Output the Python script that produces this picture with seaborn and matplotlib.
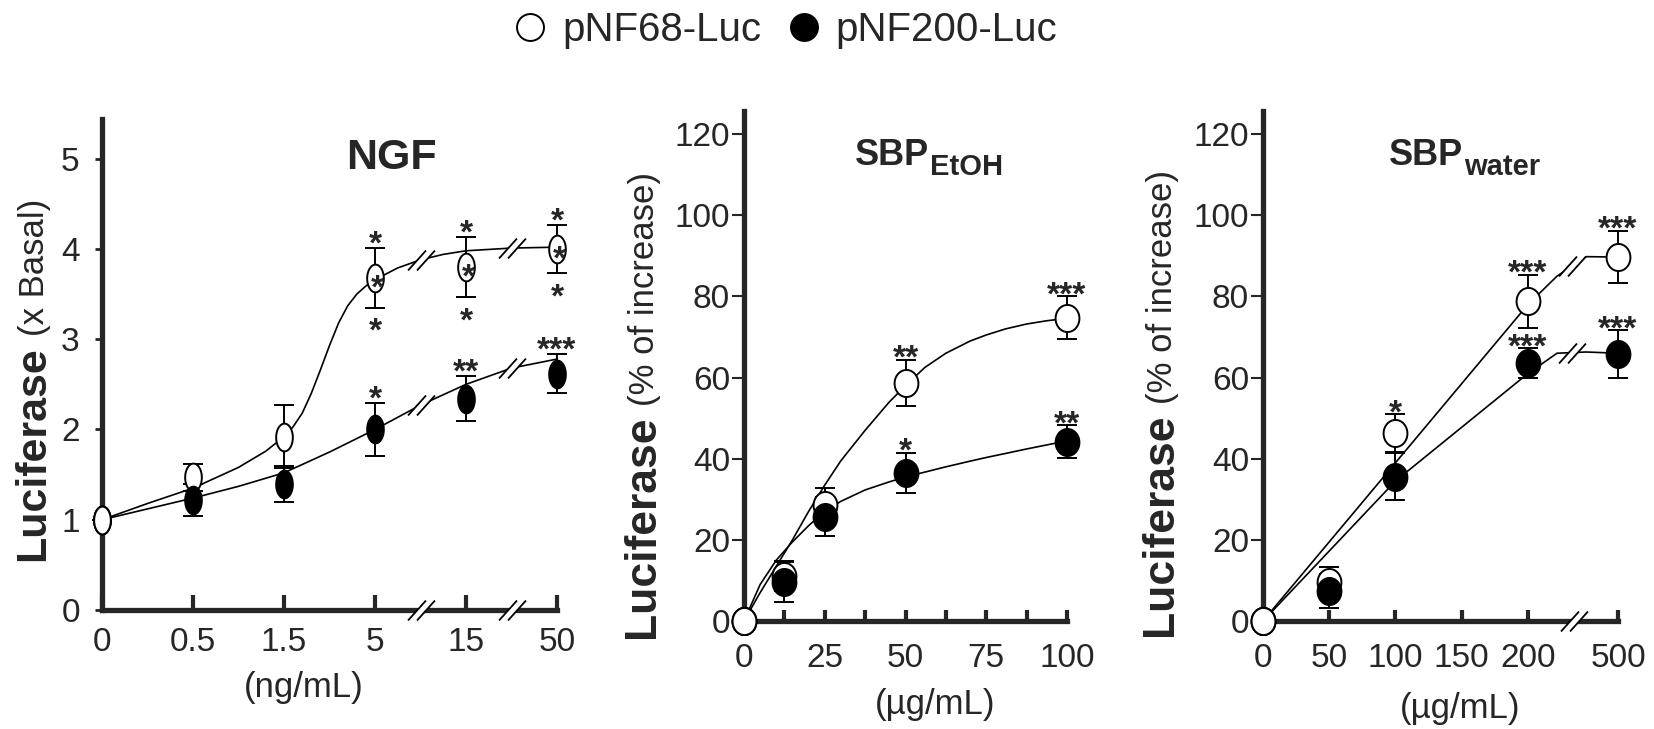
import numpy as np
import matplotlib
matplotlib.use('Agg')
import matplotlib.pyplot as plt
import seaborn as sns
from matplotlib.path import Path
from matplotlib.lines import Line2D

series_names = ['pNF68-Luc', 'pNF200-Luc']

# ---- NGF panel (x = category index, labels in ng/mL) ----
ngf_labels = ['0', '0.5', '1.5', '5', '15', '50']
ngf_x = [0, 1, 2, 3, 4, 5]
ngf_open = [1.0, 1.47, 1.92, 3.68, 3.80, 4.00]
ngf_open_err = [0.0, 0.15, 0.35, 0.33, 0.33, 0.27]
ngf_filled = [1.0, 1.22, 1.40, 2.00, 2.34, 2.62]
ngf_filled_err = [0.0, 0.18, 0.20, 0.29, 0.25, 0.22]
ngf_open_stars = ['', '', '', '*', '*', '*']
ngf_filled_stars = ['', '', '', '*', '**', '***']
ngf_fit_open_x = [0, 0.5, 1.0, 1.5, 1.8, 2.0, 2.1, 2.2, 2.3, 2.4, 2.5, 2.6, 2.7, 2.8, 2.9,
                  3.0, 3.25, 3.5, 3.75, 4.0, 4.5, 5.0]
ngf_fit_open = [1.0, 1.18, 1.35, 1.58, 1.76, 1.92, 2.03, 2.18, 2.40, 2.66, 2.93, 3.18, 3.37,
                3.50, 3.59, 3.66, 3.79, 3.88, 3.94, 3.98, 4.01, 4.02]
ngf_fit_filled_x = [0, 0.5, 1.0, 1.5, 2.0, 2.5, 3.0, 3.5, 4.0, 4.5, 5.0]
ngf_fit_filled = [1.0, 1.12, 1.24, 1.37, 1.52, 1.75, 2.0, 2.27, 2.5, 2.68, 2.78]
ngf_breaks = [3.5, 4.5]

# ---- SBP EtOH panel (ug/mL) ----
etoh_x = [0, 12.5, 25, 50, 100]
etoh_open = [0, 11.0, 28.5, 58.7, 74.8]
etoh_open_err = [0, 3.5, 4.2, 5.7, 5.3]
etoh_filled = [0, 9.7, 25.7, 36.5, 44.2]
etoh_filled_err = [0, 5.0, 4.8, 5.0, 4.0]
etoh_open_stars = ['', '', '', '**', '***']
etoh_filled_stars = ['', '', '', '*', '**']
etoh_fit_x = [0, 5, 10, 15, 20, 25, 30, 37.5, 45, 50, 56, 62.5, 70, 75, 81, 87.5, 93.75, 100]
etoh_fit_open = [0, 7.0, 13.5, 20.0, 27.0, 33.5, 39.5, 47.0, 54.0, 58.0, 62.5, 66.0, 69.0,
                 70.5, 72.0, 73.2, 74.0, 74.6]
etoh_fit_filled = [0, 9.0, 15.0, 19.5, 23.5, 27.0, 29.5, 32.3, 34.3, 35.5, 36.7, 38.0, 39.4,
                   40.3, 41.3, 42.4, 43.4, 44.4]

# ---- SBP water panel (ug/mL); 500 sits after an axis break ----
water_labels = ['0', '50', '100', '150', '200', '500']
water_dose = [0, 50, 100, 200, 500]
water_open = [0, 9.7, 46.3, 78.8, 89.7]
water_open_err = [0, 3.6, 4.6, 6.6, 6.5]
water_filled = [0, 7.3, 35.6, 63.6, 65.8]
water_filled_err = [0, 4.2, 5.8, 3.6, 5.8]
water_open_stars = ['', '', '*', '***', '***']
water_filled_stars = ['', '', '', '***', '***']
# fitted lines in axis units (500 drawn at 268)
water_fit_x = [0, 100, 200, 222, 244, 268]
water_fit_open = [0, 39.0, 78.0, 85.0, 89.8, 89.7]
water_fit_filled = [0, 34.5, 61.0, 66.0, 66.3, 66.0]
water_breaks = [233]
WATER_BREAK_POS = 268


def water_axis(v):
    return v if v <= 200 else WATER_BREAK_POS


W, H = 1654, 729
sns.set_style('ticks')
plt.rcParams['font.family'] = ['Liberation Sans', 'DejaVu Sans']
plt.rcParams['mathtext.fontset'] = 'custom'

fig = plt.figure(figsize=(W / 100, H / 100), dpi=100)
fig.patch.set_facecolor('white')


def oval(aspect):
    t = np.linspace(0, 2 * np.pi, 60)
    return Path(np.column_stack([aspect * np.cos(t), np.sin(t)]), closed=True)


a, h, d = 9, 10, 4.5
slash_path = Path([(-a - d, -h), (a - d, h), (-a + d, -h), (a + d, h)],
                  [Path.MOVETO, Path.LINETO, Path.MOVETO, Path.LINETO])
gap_path = Path([(-a - d, -h), (a - d, h), (a + d, h), (-a + d, -h), (-a - d, -h)],
                [Path.MOVETO, Path.LINETO, Path.LINETO, Path.LINETO, Path.CLOSEPOLY])


def draw_break(ax, x, y):
    ax.plot([x], [y], ls='none', marker=gap_path, ms=19.4, mfc='white', mec='white', mew=0,
            zorder=8, clip_on=False)
    ax.plot([x], [y], ls='none', marker=slash_path, ms=19.4, mfc='none', mec='k', mew=1.3,
            zorder=9, clip_on=False)


def stars(ax, x, y, err, labels, off, above=True):
    for xi, yi, ei, s in zip(x, y, err, labels):
        if not s:
            continue
        yy = yi + ei if above else yi - ei
        ax.annotate(s, (xi, yy), xytext=(0, off), textcoords='offset points', ha='center',
                    va='baseline', fontsize=24, fontweight='bold', zorder=10,
                    annotation_clip=False)


def draw_panel(ax, x, yo, eo, yf, ef, fxo, fo, fxf, ff, marker, ms):
    sns.lineplot(x=fxo, y=fo, ax=ax, color='k', lw=1.2, sort=False, zorder=2)
    sns.lineplot(x=fxf, y=ff, ax=ax, color='k', lw=1.2, sort=False, zorder=2)
    for y, e in ((yo, eo), (yf, ef)):
        ax.errorbar(x, y, yerr=e, fmt='none', ecolor='k', elinewidth=1.4, capsize=7,
                    capthick=1.4, zorder=3, clip_on=False)
    ax.plot(x, yo, ls='none', marker=marker, ms=ms, mfc='white', mec='k', mew=1.4,
            zorder=4, clip_on=False)
    ax.plot(x, yf, ls='none', marker=marker, ms=ms, mfc='k', mec='k', mew=1.4,
            zorder=5, clip_on=False)
    # basal point: open symbol on top
    ax.plot(x[:1], yo[:1], ls='none', marker=marker, ms=ms, mfc='white', mec='k', mew=1.4,
            zorder=6, clip_on=False)


def style_axis(ax, xlen, ylen, ywidth, ypad, xpad):
    sns.despine(ax=ax)
    for sp in ('left', 'bottom'):
        ax.spines[sp].set_linewidth(3.8)
    ax.tick_params(axis='x', which='both', direction='in', length=xlen, width=3, pad=xpad,
                   labelsize=24)
    ax.tick_params(axis='y', direction='out', length=ylen, width=ywidth, pad=ypad,
                   labelsize=24)
    ax.set_xlabel('')
    ax.set_ylabel('')


# ---------- panel 1 : NGF ----------
ax1 = fig.add_axes([102 / W, 1 - 610 / H, 455 / W, 491 / H])
draw_panel(ax1, ngf_x, ngf_open, ngf_open_err, ngf_filled, ngf_filled_err,
           ngf_fit_open_x, ngf_fit_open, ngf_fit_filled_x, ngf_fit_filled, oval(0.6), 20)
ax1.set_xlim(0, 5)
ax1.set_ylim(0, 5.44)
ax1.set_xticks(ngf_x)
ax1.set_xticklabels(ngf_labels)
ax1.set_yticks([0, 1, 2, 3, 4, 5])
style_axis(ax1, 10.5, 5, 2, 11, 12)
stars(ax1, ngf_x, ngf_open, ngf_open_err, ngf_open_stars, -4)
stars(ax1, ngf_x, ngf_open, ngf_open_err, ngf_open_stars, -24, above=False)
stars(ax1, [v + 0.03 for v in ngf_x], ngf_open, [0] * 6, ngf_open_stars, -14)
stars(ax1, ngf_x, ngf_filled, ngf_filled_err, ngf_filled_stars, -4)
for b in ngf_breaks:
    draw_break(ax1, b, 0)
    draw_break(ax1, b, np.interp(b, ngf_fit_open_x, ngf_fit_open))
    draw_break(ax1, b, np.interp(b, ngf_fit_filled_x, ngf_fit_filled))
ax1.set_xlabel('(ng/mL)', fontsize=25, va='center')
ax1.xaxis.set_label_coords(0.443, -0.157)

# ---------- panel 2 : SBP EtOH ----------
ax2 = fig.add_axes([744 / W, 1 - 621 / H, 323 / W, 510 / H])
draw_panel(ax2, etoh_x, etoh_open, etoh_open_err, etoh_filled, etoh_filled_err,
           etoh_fit_x, etoh_fit_open, etoh_fit_x, etoh_fit_filled, oval(0.88), 19.5)
ax2.set_xlim(0, 100)
ax2.set_ylim(0, 125.7)
ax2.set_xticks([0, 25, 50, 75, 100])
ax2.set_xticks(np.arange(0, 101, 12.5), minor=True)
ax2.set_yticks(range(0, 121, 20))
style_axis(ax2, 8, 9, 1.5, 1, 16)
stars(ax2, etoh_x, etoh_open, etoh_open_err, etoh_open_stars, -6)
stars(ax2, etoh_x, etoh_filled, etoh_filled_err, etoh_filled_stars, -6)
ax2.set_xlabel('(\u00b5g/mL)', fontsize=25, va='center')
ax2.xaxis.set_label_coords(0.591, -0.163)

# ---------- panel 3 : SBP water ----------
ax3 = fig.add_axes([1263 / W, 1 - 621 / H, 355 / W, 510 / H])
wx = [water_axis(v) for v in water_dose]
draw_panel(ax3, wx, water_open, water_open_err, water_filled, water_filled_err,
           water_fit_x, water_fit_open, water_fit_x, water_fit_filled, oval(0.88), 19.5)
ax3.set_xlim(0, WATER_BREAK_POS)
ax3.set_ylim(0, 125.7)
ax3.set_xticks([water_axis(int(v)) for v in water_labels])
ax3.set_xticklabels(water_labels)
ax3.set_yticks(range(0, 121, 20))
style_axis(ax3, 8, 9, 1.5, 1, 16)
stars(ax3, wx, water_open, water_open_err, water_open_stars, -6)
stars(ax3, wx, water_filled, water_filled_err, water_filled_stars, -6)
for b in water_breaks:
    draw_break(ax3, b + 2, 0)
    draw_break(ax3, b, np.interp(b, water_fit_x, water_fit_open))
    draw_break(ax3, b, np.interp(b, water_fit_x, water_fit_filled))
ax3.set_xlabel('(\u00b5g/mL)', fontsize=25, va='center')
ax3.xaxis.set_label_coords(0.555, -0.171)

# ---------- titles ----------
fig.text(391 / W, 1 - 158 / H, 'NGF', ha='center', va='center', fontsize=31,
         fontweight='bold')
renderer = fig.canvas.get_renderer()
for x0, sub in ((855, 'EtOH'), (1389, 'water')):
    t = fig.text(x0 / W, 1 - 165 / H, 'SBP', ha='left', va='baseline', fontsize=26,
                 fontweight='bold')
    bb = t.get_window_extent(renderer)
    fig.text((bb.x1 + 1) / W, 1 - 175 / H, sub, ha='left', va='baseline', fontsize=21,
             fontweight='bold')

# ---------- y labels ----------
for xb, yb, s1, rest in ((44, 561, 31, '(x Basal)'),
                         (654, 638, 32, '(% of increase)'),
                         (1172, 636, 32, '(% of increase)')):
    t1 = fig.text(xb / W, 1 - yb / H, 'Luciferase', rotation=90, rotation_mode='anchor',
                  ha='left', va='baseline', fontsize=s1, fontweight='bold')
    bb = t1.get_window_extent(renderer)
    fig.text(xb / W, (bb.y1 + 10) / H, rest, rotation=90, rotation_mode='anchor',
             ha='left', va='baseline', fontsize=25)

# ---------- legend ----------
handles = [Line2D([], [], ls='none', marker='o', ms=19.4, mfc='white', mec='k', mew=1.4),
           Line2D([], [], ls='none', marker='o', ms=19.4, mfc='k', mec='k', mew=1.4)]
fig.legend(handles, series_names, loc='center', bbox_to_anchor=(783.5 / W, 1 - 30 / H),
           ncol=2, frameon=False, fontsize=29, handlelength=1.0, handletextpad=0.3,
           columnspacing=0.56, borderpad=0, borderaxespad=0)

fig.savefig('out.png', dpi=100, facecolor='white')
